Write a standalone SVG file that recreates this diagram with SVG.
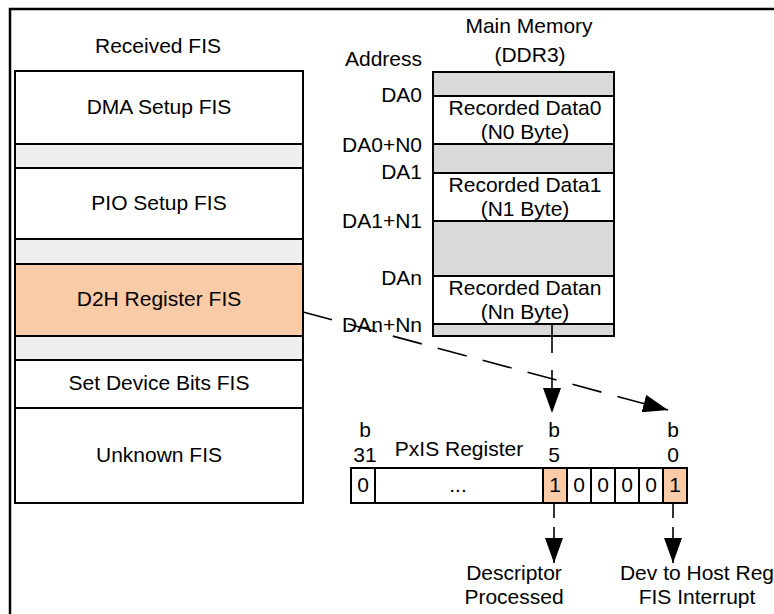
<svg xmlns="http://www.w3.org/2000/svg" width="774" height="614" viewBox="0 0 774 614">
<style>
text{font-family:"Liberation Sans",Arial,sans-serif;font-size:21px;fill:#000}
.c{text-anchor:middle}
.r{text-anchor:end}
.box{stroke:#000;stroke-width:2}
.w{fill:#fff}
.g{fill:#efefef}
.m{fill:#d9d9d9}
.o{fill:#f9cba7}
.ln{stroke:#000;stroke-width:1.6;fill:none}
</style>
<defs>
<marker id="ah" viewBox="0 0 25 18" markerWidth="25" markerHeight="18" markerUnits="userSpaceOnUse" refX="25" refY="9" orient="auto">
<path d="M0,0 L25,9 L0,18 Z" fill="#000"/>
</marker>
</defs>
<rect width="774" height="614" fill="#fff"/>
<path d="M10,614 V9 H774" fill="none" stroke="#000" stroke-width="2.5"/>

<g id="received-fis">
<text class="c" x="158" y="53">Received FIS</text>
<rect class="box w" x="15" y="71" width="288" height="73"/>
<text class="c" x="159" y="114">DMA Setup FIS</text>
<rect class="box g" x="15" y="144" width="288" height="24"/>
<rect class="box w" x="15" y="168" width="288" height="71"/>
<text class="c" x="159" y="210">PIO Setup FIS</text>
<rect class="box g" x="15" y="239" width="288" height="25"/>
<g id="d2h">
<rect class="box o" x="15" y="264" width="288" height="72"/>
<text class="c" x="159" y="306">D2H Register FIS</text>
</g>
<rect class="box g" x="15" y="336" width="288" height="24"/>
<rect class="box w" x="15" y="360" width="288" height="48"/>
<text class="c" x="159" y="390">Set Device Bits FIS</text>
<rect class="box w" x="15" y="408" width="288" height="95"/>
<text class="c" x="159" y="462">Unknown FIS</text>
</g>

<g id="main-memory">
<text class="c" x="529" y="33">Main Memory</text>
<text class="c" x="530" y="62">(DDR3)</text>
<text class="r" x="422" y="66">Address</text>
<rect class="box m" x="433" y="72" width="181" height="24"/>
<rect class="box w" x="433" y="96" width="181" height="48"/>
<text class="c" x="525" y="115">Recorded Data0</text>
<text class="c" x="525" y="139">(N0 Byte)</text>
<rect class="box m" x="433" y="144" width="181" height="29"/>
<rect class="box w" x="433" y="173" width="181" height="48"/>
<text class="c" x="525" y="192">Recorded Data1</text>
<text class="c" x="525" y="216">(N1 Byte)</text>
<rect class="box m" x="433" y="221" width="181" height="55"/>
<rect class="box w" x="433" y="276" width="181" height="48"/>
<text class="c" x="525" y="295">Recorded Datan</text>
<text class="c" x="525" y="319">(Nn Byte)</text>
<rect class="box m" x="433" y="324" width="181" height="12"/>
<text class="r" x="422" y="102">DA0</text>
<text class="r" x="422" y="152">DA0+N0</text>
<text class="r" x="422" y="179">DA1</text>
<text class="r" x="422" y="228">DA1+N1</text>
<text class="r" x="422" y="285">DAn</text>
<text class="r" x="422" y="332">DAn+Nn</text>
</g>

<g id="pxis-register">
<text class="c" x="459" y="456">PxIS Register</text>
<text class="c" x="365" y="437">b</text>
<text class="c" x="365" y="462">31</text>
<text class="c" x="554" y="437">b</text>
<text class="c" x="554" y="462">5</text>
<text class="c" x="673" y="437">b</text>
<text class="c" x="673" y="462">0</text>
<rect class="box w" x="351" y="468" width="24" height="35"/>
<text class="c" x="363" y="492">0</text>
<rect class="box w" x="375" y="468" width="168" height="35"/>
<text class="c" x="458" y="492">...</text>
<rect class="box o" x="543" y="468" width="24" height="35"/>
<text class="c" x="555" y="492">1</text>
<rect class="box w" x="567" y="468" width="24" height="35"/>
<text class="c" x="579" y="492">0</text>
<rect class="box w" x="591" y="468" width="24" height="35"/>
<text class="c" x="603" y="492">0</text>
<rect class="box w" x="615" y="468" width="24" height="35"/>
<text class="c" x="627" y="492">0</text>
<rect class="box w" x="639" y="468" width="24" height="35"/>
<text class="c" x="651" y="492">0</text>
<rect class="box o" x="663" y="468" width="24" height="35"/>
<text class="c" x="675" y="492">1</text>
</g>

<g id="descriptor-processed">
<text class="c" x="514" y="580">Descriptor</text>
<text class="c" x="514" y="604">Processed</text>
</g>
<g id="d2h-interrupt">
<text class="c" x="697" y="580">Dev to Host Reg</text>
<text class="c" x="697" y="604">FIS Interrupt</text>
</g>

<g id="connectors">
<line class="ln" x1="303" y1="312" x2="668" y2="410" stroke-dasharray="30 16.5" marker-end="url(#ah)"/>
<line class="ln" x1="552" y1="324" x2="552" y2="413" stroke-dasharray="29 17" marker-end="url(#ah)"/>
<line class="ln" x1="554" y1="503" x2="554" y2="563" stroke-dasharray="15 9" marker-end="url(#ah)"/>
<line class="ln" x1="673" y1="503" x2="673" y2="563" stroke-dasharray="15 9" marker-end="url(#ah)"/>
</g>
</svg>
